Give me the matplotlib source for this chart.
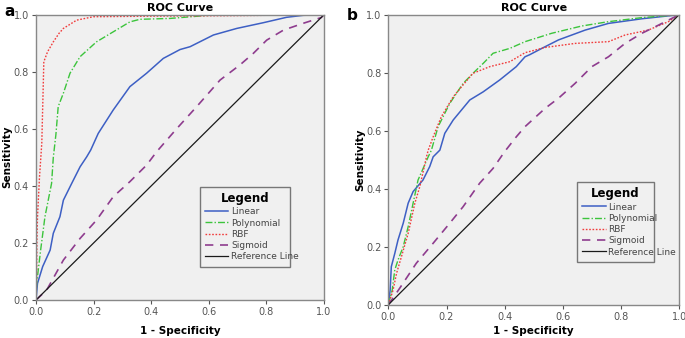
import matplotlib
matplotlib.use("Agg")
import matplotlib.pyplot as plt
from matplotlib.lines import Line2D

# ---------- data ----------
series_names = ["Linear", "Polynomial", "RBF", "Sigmoid", "Reference Line"]

# Panel a
a_linear_x = [0, 0.005, 0.023, 0.049, 0.06, 0.083, 0.095, 0.124, 0.153, 0.176, 0.19, 0.216, 0.268, 0.326, 0.384, 0.442, 0.5, 0.535, 0.616, 0.697, 0.789, 0.87, 0.928, 1.0]
a_linear_y = [0, 0.058, 0.117, 0.175, 0.234, 0.292, 0.35, 0.409, 0.467, 0.502, 0.526, 0.584, 0.666, 0.748, 0.795, 0.847, 0.878, 0.888, 0.929, 0.952, 0.972, 0.991, 0.998, 1.0]
a_poly_x = [0, 0.002, 0.005, 0.016, 0.031, 0.054, 0.06, 0.069, 0.077, 0.095, 0.118, 0.153, 0.21, 0.268, 0.326, 0.361, 0.465, 0.6, 1.0]
a_poly_y = [0, 0.06, 0.082, 0.175, 0.292, 0.409, 0.5, 0.58, 0.678, 0.725, 0.795, 0.853, 0.905, 0.94, 0.975, 0.984, 0.987, 0.998, 1.0]
a_rbf_x = [0, 0.002, 0.003, 0.005, 0.012, 0.02, 0.025, 0.027, 0.04, 0.06, 0.08, 0.095, 0.141, 0.199, 0.4, 0.7, 1.0]
a_rbf_y = [0, 0.08, 0.2, 0.29, 0.43, 0.55, 0.75, 0.835, 0.87, 0.905, 0.935, 0.952, 0.981, 0.993, 0.995, 0.997, 1.0]
a_sig_x = [0, 0.037, 0.095, 0.153, 0.21, 0.268, 0.326, 0.384, 0.419, 0.488, 0.558, 0.639, 0.708, 0.755, 0.801, 0.859, 0.928, 0.99, 1.0]
a_sig_y = [0, 0.035, 0.14, 0.216, 0.28, 0.362, 0.415, 0.473, 0.52, 0.6, 0.678, 0.771, 0.824, 0.865, 0.911, 0.946, 0.97, 0.99, 1.0]

# Panel b
b_linear_x = [0, 0.006, 0.01, 0.022, 0.033, 0.051, 0.068, 0.085, 0.119, 0.142, 0.154, 0.177, 0.194, 0.223, 0.28, 0.326, 0.383, 0.44, 0.47, 0.486, 0.528, 0.585, 0.677, 0.757, 0.872, 1.0]
b_linear_y = [0, 0.05, 0.131, 0.177, 0.223, 0.281, 0.35, 0.39, 0.43, 0.476, 0.51, 0.533, 0.591, 0.637, 0.706, 0.734, 0.775, 0.821, 0.855, 0.862, 0.884, 0.913, 0.947, 0.97, 0.986, 1.0]
b_poly_x = [0, 0.013, 0.022, 0.033, 0.051, 0.068, 0.085, 0.102, 0.137, 0.148, 0.171, 0.211, 0.257, 0.291, 0.326, 0.36, 0.418, 0.47, 0.562, 0.665, 0.757, 0.872, 1.0]
b_poly_y = [0, 0.05, 0.12, 0.154, 0.2, 0.269, 0.35, 0.43, 0.51, 0.533, 0.614, 0.694, 0.763, 0.798, 0.832, 0.867, 0.884, 0.907, 0.936, 0.961, 0.976, 0.99, 1.0]
b_rbf_x = [0, 0.016, 0.028, 0.045, 0.068, 0.091, 0.108, 0.131, 0.137, 0.154, 0.182, 0.223, 0.257, 0.291, 0.349, 0.418, 0.47, 0.539, 0.642, 0.757, 0.814, 0.894, 0.963, 1.0]
b_rbf_y = [0, 0.05, 0.108, 0.166, 0.246, 0.35, 0.407, 0.51, 0.533, 0.579, 0.648, 0.717, 0.758, 0.798, 0.821, 0.838, 0.869, 0.887, 0.901, 0.907, 0.93, 0.947, 0.976, 1.0]
b_sig_x = [0, 0.039, 0.096, 0.154, 0.211, 0.257, 0.314, 0.36, 0.4, 0.44, 0.47, 0.539, 0.585, 0.642, 0.7, 0.757, 0.814, 0.872, 0.929, 1.0]
b_sig_y = [0, 0.057, 0.143, 0.212, 0.281, 0.338, 0.419, 0.47, 0.528, 0.579, 0.614, 0.677, 0.712, 0.763, 0.821, 0.855, 0.901, 0.936, 0.964, 1.0]

ref_x = [0, 1]
ref_y = [0, 1]

ticks = [0.0, 0.2, 0.4, 0.6, 0.8, 1.0]
tick_labels = ["0.0", "0.2", "0.4", "0.6", "0.8", "1.0"]

colors = {"Linear": "#3d5fc4", "Polynomial": "#3cc43c", "RBF": "#f03c3c",
          "Sigmoid": "#8e3c8e", "Reference Line": "#1a1a1a"}
styles = {"Linear": "-", "Polynomial": (0, (5, 1.5, 1, 1.5)), "RBF": (0, (1.2, 1.2)),
          "Sigmoid": (0, (5, 4)), "Reference Line": "-"}
widths = {"Linear": 1.1, "Polynomial": 1.0, "RBF": 1.0, "Sigmoid": 1.2, "Reference Line": 0.9}

fig = plt.figure(figsize=(6.85, 3.38), dpi=100)
fig.patch.set_facecolor("white")

H = 338.0
W = 685.0

panels = [
    dict(rect=[0.0526, 0.1124, 0.4204, 0.844], label="a", lpos=(10 / W, 1 - 12 / H),
         ylab=(7 / W, 1 - 157 / H), xlab_x=(36 + 324) / 2 / W,
         data=[(a_linear_x, a_linear_y), (a_poly_x, a_poly_y), (a_rbf_x, a_rbf_y), (a_sig_x, a_sig_y)],
         leg=(195 / W, 1 - 271.7 / H, 100 / W, 90 / H)),
    dict(rect=[0.567, 0.0985, 0.4244, 0.858], label="b", lpos=(352 / W, 1 - 15 / H),
         ylab=(360 / W, 1 - 160 / H), xlab_x=(388 + 679) / 2 / W,
         data=[(b_linear_x, b_linear_y), (b_poly_x, b_poly_y), (b_rbf_x, b_rbf_y), (b_sig_x, b_sig_y)],
         leg=(572.3 / W, 1 - 266 / H, 86 / W, 88 / H)),
]

for p in panels:
    ax = fig.add_axes(p["rect"])
    ax.set_facecolor("#f0f0f0")
    for name, (xs, ys) in zip(series_names[:4], p["data"]):
        ax.plot(xs, ys, color=colors[name], linestyle=styles[name], lw=widths[name])
    ax.plot(ref_x, ref_y, color=colors["Reference Line"], lw=widths["Reference Line"])
    ax.set_xlim(0, 1)
    ax.set_ylim(0, 1)
    ax.set_xticks(ticks)
    ax.set_xticklabels(tick_labels)
    ax.set_yticks(ticks)
    ax.set_yticklabels(tick_labels)
    ax.tick_params(labelsize=7, colors="#555555", length=3, width=0.8, pad=2)
    for s in ax.spines.values():
        s.set_color("#888888")
        s.set_linewidth(1.0)
    ax.set_title("ROC Curve", fontsize=8, fontweight="bold", pad=3)
    fig.text(p["xlab_x"], 1 - 331 / H, "1 - Specificity", fontsize=7.5, fontweight="bold",
             ha="center", va="center")
    fig.text(p["ylab"][0], p["ylab"][1], "Sensitivity", fontsize=7.5, fontweight="bold",
             ha="center", va="center", rotation=90)
    fig.text(p["lpos"][0], p["lpos"][1], p["label"], fontsize=11, fontweight="bold",
             ha="center", va="center")

    handles = [Line2D([0], [0], color=colors[n], linestyle=styles[n], lw=widths[n]) for n in series_names]
    lx, ly, lw_, lh = p["leg"]
    leg = ax.legend(handles, series_names, loc="center", bbox_to_anchor=(lx, ly, lw_, lh),
                    bbox_transform=fig.transFigure, title="Legend", fontsize=6.5,
                    title_fontproperties={"weight": "bold", "size": 8.5},
                    frameon=True, fancybox=False, handlelength=2.6, handletextpad=0.3,
                    labelspacing=0.25, borderpad=0.6, mode="expand", alignment="center")
    fr = leg.get_frame()
    fr.set_edgecolor("#777777")
    fr.set_facecolor("#f0f0f0")
    fr.set_linewidth(1.0)
    fr.set_alpha(1)
    for t in leg.get_texts():
        t.set_color("#444444")

fig.savefig("out.png", dpi=100)
